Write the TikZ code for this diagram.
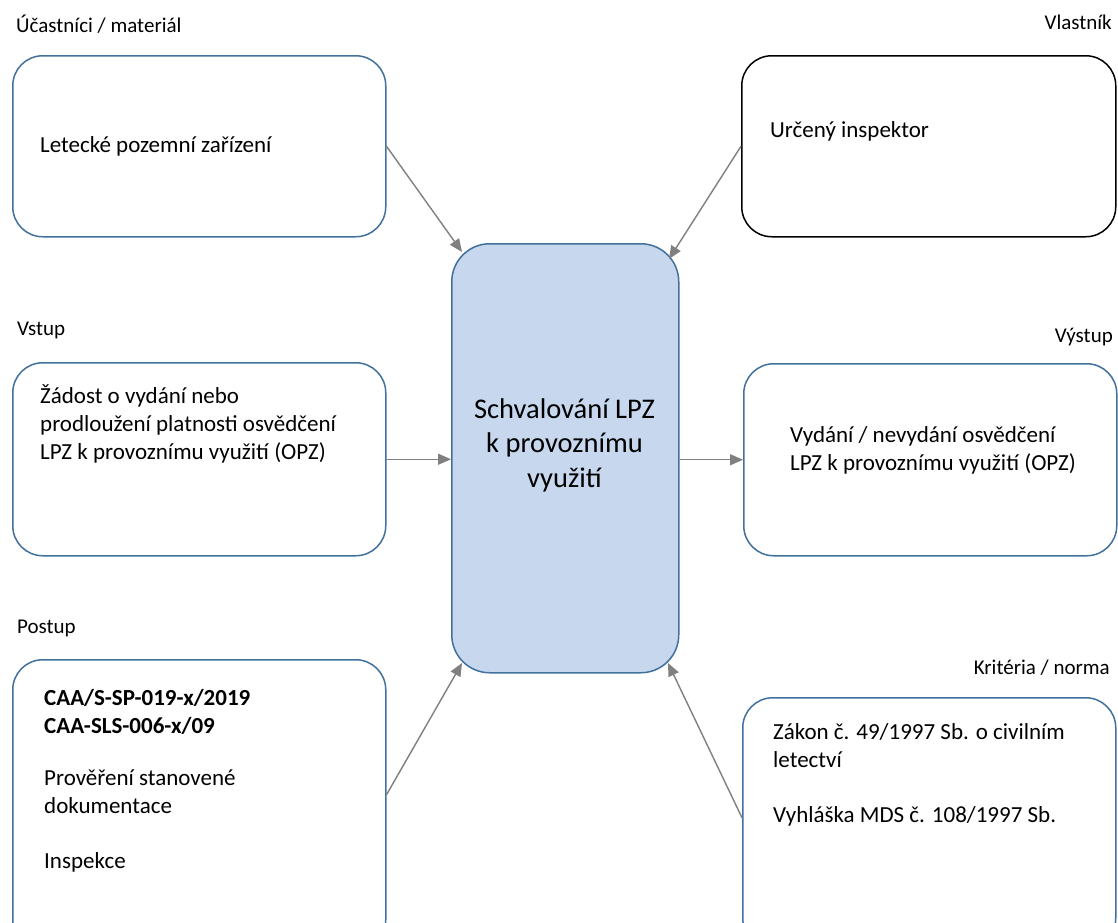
\documentclass[tikz,border=0pt]{standalone}
\usepackage{fontspec}
\setmainfont{Carlito}
\usetikzlibrary{arrows.meta}
\definecolor{boxblue}{HTML}{41719C}
\definecolor{fillblue}{HTML}{C6D7EE}
\definecolor{arrgray}{HTML}{808080}
\newcommand{\tbl}[2]{\parbox[t]{#1}{\fontsize{23}{28}\selectfont\raggedright #2}}
\newcommand{\tbc}[2]{\parbox[t]{#1}{\fontsize{28.5}{34.5}\selectfont\centering #2}}
\begin{document}
\begin{tikzpicture}[x=1pt,y=-1pt,
  roundbox/.style={draw=boxblue, line width=1.5pt, rounded corners=30pt, minimum width=373pt, anchor=north west, inner sep=0pt},
  blackbox/.style={roundbox, draw=black},
  centerbox/.style={draw=boxblue, fill=fillblue, line width=1.5pt, rounded corners=38pt, minimum width=227pt, minimum height=429pt, anchor=north west, inner sep=0pt},
  lbl/.style={inner sep=0pt, font=\fontsize{21}{25}\selectfont},
  txt/.style={inner sep=0pt, anchor=base west},
  arr/.style={draw=arrgray, line width=1.4pt, -{Triangle[length=13pt,width=11pt]}, fill=arrgray}
]
\clip (0,0) rectangle (1118,922);
\fill[white] (0,0) rectangle (1118,922);

% boxes
\node[roundbox, minimum height=181pt] (tl) at (12,55) {};
\node[blackbox, minimum height=181pt, minimum width=374pt] (tr) at (741,55) {};
\node[roundbox, minimum height=193pt] (ml) at (12,362) {};
\node[roundbox, minimum height=192pt, minimum width=373pt] (mr) at (743,363) {};
\node[roundbox, minimum height=290pt] (bl) at (12,659) {};
\node[roundbox, minimum height=250pt] (br) at (742,697) {};
\node[centerbox] (ctr) at (451,243) {};

% labels
\node[lbl, anchor=base west] (l1) at (16,32) {Účastníci / materiál};
\node[lbl, anchor=base east] (l2) at (1112,29) {Vlastník};
\node[lbl, anchor=base west] (l3) at (17,335) {Vstup};
\node[lbl, anchor=base east] (l4) at (1113,342) {Výstup};
\node[lbl, anchor=base west] (l5) at (17,633) {Postup};
\node[lbl, anchor=base east] (l6) at (1110,674) {Kritéria / norma};

% texts
\node[txt] (t1) at (40,152) {\tbl{330pt}{Letecké pozemní zařízení}};
\node[txt] (t2) at (770,137) {\tbl{330pt}{Určený inspektor}};
\node[txt] (t3) at (40,403) {\tbl{340pt}{Žádost o vydání nebo\\prodloužení platnosti osvědčení\\LPZ k provoznímu využití (OPZ)}};
\node[txt] (t4) at (790,442) {\tbl{320pt}{Vydání / nevydání osvědčení\\LPZ k provoznímu využití (OPZ)}};
\node[txt] (t5) at (44,705) {\tbl{330pt}{\textbf{CAA/S-SP-019-x/2019}\\\textbf{CAA-SLS-006-x/09}\\[24pt]Prověření stanovené\\dokumentace\\[27pt]Inspekce}};
\node[txt] (t6) at (773,739) {\tbl{330pt}{Zákon č. 49/1997 Sb. o civilním\\letectví\\[27pt]Vyhláška MDS č. 108/1997 Sb.}};
\node[inner sep=0pt, anchor=base] (t7) at (564.5,418) {\tbc{220pt}{Schvalování LPZ\\k provoznímu\\využití}};

% arrow end points on the centre box corners
\coordinate (e1) at (462,252);
\coordinate (e2) at (669,259);
\coordinate (e5) at (462,663);
\coordinate (e6) at (668,663);

% connectors
\draw[arr] (tl.east) -- (e1);
\draw[arr] (tr.west) -- (e2);
\draw[arr] (ml.east) -- (ml.east -| ctr.west);
\draw[arr] (ctr.east |- mr.west) -- (mr.west);
\draw[arr] ([yshift=10pt]bl.east) -- (e5);
\draw[arr] ([yshift=5pt]br.west) -- (e6);
\end{tikzpicture}
\end{document}
